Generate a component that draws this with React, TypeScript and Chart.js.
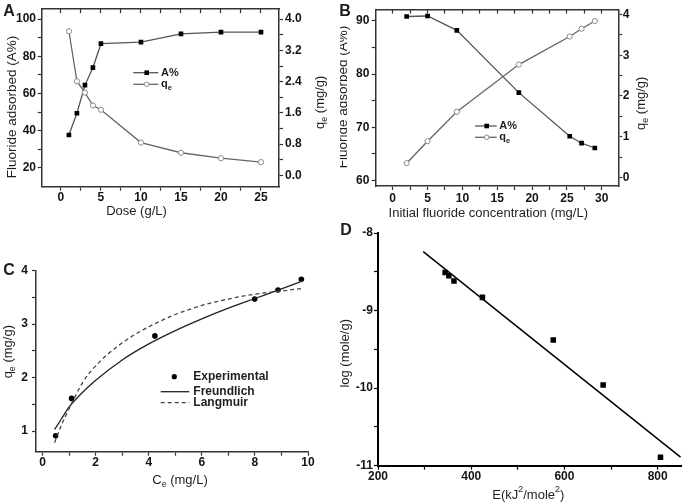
import React, { useEffect, useRef } from 'react';
import { Chart, registerables } from 'chart.js';

Chart.register(...registerables);

const FONT = '"Liberation Sans", Arial, Helvetica, sans-serif';

// ---------- Panel A: dose effect ----------
const A_DOSE = [1, 2, 3, 4, 5, 10, 15, 20, 25];
const A_PERCENT = [37.7, 49.4, 64.5, 73.9, 86.8, 87.6, 92.1, 93.0, 93.0];
const A_QE = [3.69, 2.41, 2.12, 1.79, 1.68, 0.84, 0.58, 0.44, 0.34];
const A_X_TICKS = [0, 5, 10, 15, 20, 25];
const A_X_LABELS = ['0', '5', '10', '15', '20', '25'];
const A_X_MINOR = [2.5, 7.5, 12.5, 17.5, 22.5];
const A_Y_TICKS = [20, 40, 60, 80, 100];
const A_Y_LABELS = ['20', '40', '60', '80', '100'];
const A_Y_MINOR = [30, 50, 70, 90];
const A_Q_TICKS = [0, 0.8, 1.6, 2.4, 3.2, 4.0];
const A_Q_LABELS = ['0.0', '0.8', '1.6', '2.4', '3.2', '4.0'];
const A_Q_MINOR = [0.4, 1.2, 2.0, 2.8, 3.6];

// ---------- Panel B: initial concentration ----------
const B_CONC = [2, 5, 9.2, 18.1, 25.4, 27.1, 29];
const B_PERCENT = [90.8, 90.9, 88.2, 76.5, 68.3, 67.0, 66.1];
const B_QE = [0.35, 0.89, 1.61, 2.77, 3.46, 3.65, 3.84];
const B_X_TICKS = [0, 5, 10, 15, 20, 25, 30];
const B_X_LABELS = ['0', '5', '10', '15', '20', '25', '30'];
const B_X_MINOR = [2.5, 7.5, 12.5, 17.5, 22.5, 27.5];
const B_Y_TICKS = [60, 70, 80, 90];
const B_Y_LABELS = ['60', '70', '80', '90'];
const B_Y_MINOR = [65, 75, 85];
const B_Q_TICKS = [0, 1, 2, 3, 4];
const B_Q_LABELS = ['0', '1', '2', '3', '4'];
const B_Q_MINOR = [0.5, 1.5, 2.5, 3.5];

// ---------- Panel C: isotherms ----------
const C_CE = [0.49, 1.09, 4.23, 7.99, 8.87, 9.75];
const C_QE = [0.91, 1.61, 2.78, 3.47, 3.64, 3.84];
const C_FIT_CE = [0.45, 0.7, 1.0, 1.5, 2, 3, 4, 5, 6, 7, 8, 9, 9.8];
const C_FREUNDLICH = [1.03, 1.22, 1.45, 1.72, 1.95, 2.33, 2.63, 2.88, 3.1, 3.3, 3.48, 3.66, 3.81];
const C_LANGMUIR = [0.78, 1.1, 1.42, 1.9, 2.22, 2.65, 2.95, 3.18, 3.35, 3.47, 3.56, 3.62, 3.67];
const C_X_TICKS = [0, 2, 4, 6, 8, 10];
const C_X_LABELS = ['0', '2', '4', '6', '8', '10'];
const C_X_MINOR = [1, 3, 5, 7, 9];
const C_Y_TICKS = [1, 2, 3, 4];
const C_Y_LABELS = ['1', '2', '3', '4'];
const C_Y_MINOR = [1.5, 2.5, 3.5];

// ---------- Panel D: D-R plot ----------
const D_E = [344, 352, 363, 424, 576, 683, 806];
const D_LOG = [-8.51, -8.55, -8.62, -8.83, -9.38, -9.96, -10.89];
const D_FIT_E = [297, 849];
const D_FIT_LOG = [-8.24, -10.89];
const D_X_TICKS = [200, 400, 600, 800];
const D_X_LABELS = ['200', '400', '600', '800'];
const D_X_MINOR = [300, 500, 700];
const D_Y_TICKS = [-11, -10, -9, -8];
const D_Y_LABELS = ['-11', '-10', '-9', '-8'];
const D_Y_MINOR = [-10.5, -9.5, -8.5];

type Seg = [string, ('sub' | 'sup')?];
interface TextItem {
  segs: Seg[];
  x: number;
  y: number;
  size: number;
  bold?: boolean;
  rot?: number;
  align?: 'left' | 'center' | 'right';
  color?: string;
}
interface LegendItem {
  y: number;
  x1: number;
  x2: number;
  mx: number;
  tx: number;
  segs: Seg[];
  line?: 'solid' | 'dash';
  lineColor?: string;
  lineWidth?: number;
  marker?: 'square' | 'circle' | 'dot';
  size: number;
}

function drawRich(ctx: CanvasRenderingContext2D, it: TextItem) {
  ctx.save();
  ctx.translate(it.x, it.y);
  if (it.rot) ctx.rotate(it.rot);
  ctx.textBaseline = 'middle';
  ctx.textAlign = 'left';
  ctx.fillStyle = it.color || '#1e1e1e';
  const w = it.bold ? 'bold ' : '';
  const fontFor = (k?: string) => `${w}${k ? it.size * 0.68 : it.size}px ${FONT}`;
  const widths = it.segs.map(([t, k]) => {
    ctx.font = fontFor(k);
    return ctx.measureText(t).width;
  });
  const total = widths.reduce((a, b) => a + b, 0);
  const align = it.align || 'center';
  let x = align === 'center' ? -total / 2 : align === 'right' ? -total : 0;
  it.segs.forEach(([t, k], i) => {
    ctx.font = fontFor(k);
    const dy = k === 'sub' ? it.size * 0.32 : k === 'sup' ? -it.size * 0.38 : 0;
    ctx.fillText(t, x, dy);
    x += widths[i];
  });
  ctx.restore();
}

const decoPlugin = {
  id: 'deco',
  afterDraw(chart: any, _args: any, opts: any) {
    const ctx: CanvasRenderingContext2D = chart.ctx;
    (opts.legend || []).forEach((l: LegendItem) => {
      ctx.save();
      if (l.line) {
        ctx.strokeStyle = l.lineColor || '#444';
        ctx.lineWidth = l.lineWidth || 1.3;
        ctx.setLineDash(l.line === 'dash' ? [4, 3] : []);
        ctx.beginPath();
        ctx.moveTo(l.x1, l.y);
        ctx.lineTo(l.x2, l.y);
        ctx.stroke();
        ctx.setLineDash([]);
      }
      if (l.marker === 'square') {
        ctx.fillStyle = '#000';
        ctx.fillRect(l.mx - 2.3, l.y - 2.3, 4.6, 4.6);
      } else if (l.marker === 'circle') {
        ctx.fillStyle = '#fff';
        ctx.strokeStyle = '#8a8a8a';
        ctx.lineWidth = 1;
        ctx.beginPath();
        ctx.arc(l.mx, l.y, 2.3, 0, Math.PI * 2);
        ctx.fill();
        ctx.stroke();
      } else if (l.marker === 'dot') {
        ctx.fillStyle = '#000';
        ctx.beginPath();
        ctx.arc(l.mx, l.y, 2.6, 0, Math.PI * 2);
        ctx.fill();
      }
      ctx.restore();
      drawRich(ctx, { segs: l.segs, x: l.tx, y: l.y, size: l.size, bold: true, align: 'left' });
    });
    (opts.texts || []).forEach((t: TextItem) => drawRich(ctx, t));
  },
};

interface AxisOpts {
  position: 'left' | 'right' | 'top' | 'bottom';
  min: number;
  max: number;
  major: number[];
  labels?: string[];
  minor?: number[];
  size: number;
  tickLen?: number;
  pad?: number;
  font?: number;
  showLabels?: boolean;
  color?: string;
  width?: number;
}

function makeAxis(p: AxisOpts) {
  const horizontal = p.position === 'top' || p.position === 'bottom';
  const color = p.color || '#333';
  return {
    type: 'linear',
    position: p.position,
    min: p.min,
    max: p.max,
    afterBuildTicks: (s: any) => {
      s.ticks = [...p.major, ...(p.minor || [])].sort((a, b) => a - b).map((v) => ({ value: v }));
    },
    afterFit: (s: any) => {
      if (horizontal) s.height = p.size;
      else s.width = p.size;
    },
    grid: {
      display: true,
      drawOnChartArea: false,
      drawTicks: true,
      tickLength: p.tickLen ?? 4,
      tickColor: color,
      tickWidth: 1.2,
    },
    border: { display: true, color, width: p.width || 1.5 },
    ticks: {
      display: p.showLabels !== false,
      autoSkip: false,
      maxRotation: 0,
      minRotation: 0,
      padding: p.pad ?? 2,
      color: '#141414',
      font: { size: p.font || 12, weight: 'bold', family: FONT },
      callback: (v: number) => {
        const i = p.major.findIndex((m) => Math.abs(m - v) < 1e-9);
        return i >= 0 ? (p.labels ? p.labels[i] : String(v)) : '';
      },
    },
    title: { display: false },
  };
}

const pairs = (xs: number[], ys: number[]) => xs.map((x, i) => ({ x, y: ys[i] }));
const ROT = -Math.PI / 2;

function baseOptions(padding: any, scales: any, deco: any) {
  return {
    responsive: false,
    animation: false,
    layout: { padding },
    plugins: { legend: { display: false }, tooltip: { enabled: false }, deco },
    scales,
  };
}

function configA() {
  return {
    type: 'scatter',
    data: {
      datasets: [
        {
          data: pairs(A_DOSE, A_QE),
          yAxisID: 'y1',
          showLine: true,
          borderColor: '#666',
          borderWidth: 1.3,
          pointStyle: 'circle',
          pointRadius: 2.6,
          pointBackgroundColor: '#fff',
          pointBorderColor: '#8a8a8a',
          pointBorderWidth: 1,
        },
        {
          data: pairs(A_DOSE, A_PERCENT),
          yAxisID: 'y',
          showLine: true,
          borderColor: '#555',
          borderWidth: 1.3,
          pointStyle: 'rect',
          pointRadius: 3.3,
          pointBackgroundColor: '#000',
          pointBorderColor: '#000',
          pointBorderWidth: 0,
        },
      ],
    },
    options: baseOptions(
      { top: 2.7, left: 0, right: 0, bottom: 0 },
      {
        x: makeAxis({ position: 'bottom', min: -2.4, max: 27.25, major: A_X_TICKS, labels: A_X_LABELS, minor: A_X_MINOR, size: 53.3, pad: 0 }),
        xTop: makeAxis({ position: 'top', min: -2.4, max: 27.25, major: A_X_TICKS, minor: A_X_MINOR, size: 0, tickLen: -4, showLabels: false }),
        y: makeAxis({ position: 'left', min: 9.9, max: 105.35, major: A_Y_TICKS, labels: A_Y_LABELS, minor: A_Y_MINOR, size: 41.7, pad: 1.7 }),
        y1: makeAxis({ position: 'right', min: -0.289, max: 4.254, major: A_Q_TICKS, labels: A_Q_LABELS, minor: A_Q_MINOR, size: 61, pad: 2 }),
      },
      {
        texts: [
          { segs: [['A']], x: 9, y: 12, size: 16, bold: true },
          { segs: [['Fluoride adsorbed (A%)']], x: 12.5, y: 107, size: 13.5, rot: ROT },
          { segs: [['Dose (g/L)']], x: 136.5, y: 211.7, size: 13 },
          { segs: [['q'], ['e', 'sub'], [' (mg/g)']], x: 320, y: 102.3, size: 13, rot: ROT },
        ],
        legend: [
          { y: 72.7, x1: 133.3, x2: 158.3, mx: 146.7, tx: 161, segs: [['A%']], line: 'solid', lineColor: '#555', marker: 'square', size: 11 },
          { y: 84.3, x1: 133.3, x2: 158.3, mx: 146.7, tx: 161, segs: [['q'], ['e', 'sub']], line: 'solid', lineColor: '#666', marker: 'circle', size: 11 },
        ],
      }
    ),
    plugins: [decoPlugin],
  };
}

function configB() {
  return {
    type: 'scatter',
    data: {
      datasets: [
        {
          data: pairs(B_CONC, B_QE),
          yAxisID: 'y1',
          showLine: true,
          borderColor: '#666',
          borderWidth: 1.3,
          pointStyle: 'circle',
          pointRadius: 2.6,
          pointBackgroundColor: '#fff',
          pointBorderColor: '#8a8a8a',
          pointBorderWidth: 1,
        },
        {
          data: pairs(B_CONC, B_PERCENT),
          yAxisID: 'y',
          showLine: true,
          borderColor: '#555',
          borderWidth: 1.3,
          pointStyle: 'rect',
          pointRadius: 3.3,
          pointBackgroundColor: '#000',
          pointBorderColor: '#000',
          pointBorderWidth: 0,
        },
      ],
    },
    options: baseOptions(
      { top: 5, left: 0, right: 0, bottom: 0 },
      {
        x: makeAxis({ position: 'bottom', min: -2.44, max: 32.37, major: B_X_TICKS, labels: B_X_LABELS, minor: B_X_MINOR, size: 54, pad: 1 }),
        xTop: makeAxis({ position: 'top', min: -2.44, max: 32.37, major: B_X_TICKS, minor: B_X_MINOR, size: 0, tickLen: -4, showLabels: false }),
        y: makeAxis({ position: 'left', min: 58.96, max: 92.1, major: B_Y_TICKS, labels: B_Y_LABELS, minor: B_Y_MINOR, size: 35.7, pad: 2.4 }),
        y1: makeAxis({ position: 'right', min: -0.21, max: 4.12, major: B_Q_TICKS, labels: B_Q_LABELS, minor: B_Q_MINOR, size: 66.7, pad: 0.5 }),
      },
      {
        texts: [
          { segs: [['B']], x: 5, y: 12, size: 16, bold: true },
          { segs: [['Fluoride adsorbed (A%)']], x: 3, y: 97, size: 13.5, rot: ROT },
          { segs: [['Initial fluoride concentration (mg/L)']], x: 148.3, y: 213.3, size: 13 },
          { segs: [['q'], ['e', 'sub'], [' (mg/g)']], x: 301.7, y: 103.3, size: 13, rot: ROT },
        ],
        legend: [
          { y: 126, x1: 135, x2: 156.7, mx: 146.7, tx: 159.3, segs: [['A%']], line: 'solid', lineColor: '#555', marker: 'square', size: 11 },
          { y: 137.3, x1: 135, x2: 156.7, mx: 146.7, tx: 159.3, segs: [['q'], ['e', 'sub']], line: 'solid', lineColor: '#666', marker: 'circle', size: 11 },
        ],
      }
    ),
    plugins: [decoPlugin],
  };
}

function configC() {
  return {
    type: 'scatter',
    data: {
      datasets: [
        {
          data: pairs(C_FIT_CE, C_LANGMUIR),
          showLine: true,
          borderColor: '#444',
          borderWidth: 1.3,
          borderDash: [4, 3],
          pointRadius: 0,
          cubicInterpolationMode: 'monotone',
        },
        {
          data: pairs(C_FIT_CE, C_FREUNDLICH),
          showLine: true,
          borderColor: '#222',
          borderWidth: 1.3,
          pointRadius: 0,
          cubicInterpolationMode: 'monotone',
        },
        {
          data: pairs(C_CE, C_QE),
          showLine: false,
          pointStyle: 'circle',
          pointRadius: 2.8,
          pointBackgroundColor: '#000',
          pointBorderColor: '#000',
          pointBorderWidth: 0,
        },
      ],
    },
    options: baseOptions(
      { top: 30.7, left: 0, right: 32, bottom: 0 },
      {
        x: makeAxis({ position: 'bottom', min: -0.25, max: 10, major: C_X_TICKS, labels: C_X_LABELS, minor: C_X_MINOR, size: 51.3, pad: 0 }),
        y: makeAxis({ position: 'left', min: 0.613, max: 4, major: C_Y_TICKS, labels: C_Y_LABELS, minor: C_Y_MINOR, size: 36, pad: 4 }),
      },
      {
        texts: [
          { segs: [['C']], x: 9, y: 31, size: 16, bold: true },
          { segs: [['q'], ['e', 'sub'], [' (mg/g)']], x: 8.3, y: 111.7, size: 13, rot: ROT },
          { segs: [['C'], ['e', 'sub'], [' (mg/L)']], x: 180, y: 240, size: 13 },
        ],
        legend: [
          { y: 136.7, x1: 0, x2: 0, mx: 174.3, tx: 193.3, segs: [['Experimental']], marker: 'dot', size: 12 },
          { y: 151.7, x1: 160.7, x2: 189.3, mx: 0, tx: 193.3, segs: [['Freundlich']], line: 'solid', lineColor: '#222', size: 12 },
          { y: 162.7, x1: 160.7, x2: 189.3, mx: 0, tx: 193.3, segs: [['Langmuir']], line: 'dash', lineColor: '#444', size: 12 },
        ],
      }
    ),
    plugins: [decoPlugin],
  };
}

function configD() {
  return {
    type: 'scatter',
    data: {
      datasets: [
        {
          data: pairs(D_FIT_E, D_FIT_LOG),
          showLine: true,
          borderColor: '#000',
          borderWidth: 1.5,
          pointRadius: 0,
        },
        {
          data: pairs(D_E, D_LOG),
          showLine: false,
          pointStyle: 'rect',
          pointRadius: 3.9,
          pointBackgroundColor: '#000',
          pointBorderColor: '#000',
          pointBorderWidth: 0,
        },
      ],
    },
    options: baseOptions(
      { top: 18, left: 0, right: 3.3, bottom: 0 },
      {
        x: makeAxis({ position: 'bottom', min: 200, max: 850, major: D_X_TICKS, labels: D_X_LABELS, minor: D_X_MINOR, size: 37.3, pad: 0, color: '#000', width: 2 }),
        y: makeAxis({ position: 'left', min: -11, max: -8, major: D_Y_TICKS, labels: D_Y_LABELS, minor: D_Y_MINOR, size: 38, pad: 1, color: '#000', width: 2 }),
      },
      {
        texts: [
          { segs: [['D']], x: 6, y: 16, size: 16, bold: true },
          { segs: [['log (mole/g)']], x: 5, y: 138.3, size: 13, rot: ROT },
          { segs: [['E(kJ'], ['2', 'sup'], ['/mole'], ['2', 'sup'], [')']], x: 188.3, y: 280, size: 13 },
        ],
      }
    ),
    plugins: [decoPlugin],
  };
}

function Panel(props: { left: number; top: number; width: number; height: number; make: () => any }) {
  const ref = useRef<HTMLCanvasElement>(null);
  useEffect(() => {
    const chart = new Chart(ref.current as HTMLCanvasElement, props.make());
    return () => chart.destroy();
  }, []);
  return (
    <canvas
      ref={ref}
      width={props.width}
      height={props.height}
      style={{ position: 'absolute', left: props.left, top: props.top, width: props.width, height: props.height }}
    />
  );
}

export default function App() {
  return (
    <div style={{ position: 'absolute', left: 0, top: 0, width: 685, height: 503, background: '#fff', overflow: 'hidden' }}>
      <Panel left={0} top={0} width={340} height={240} make={configA} />
      <Panel left={340} top={0} width={345} height={240} make={configB} />
      <Panel left={0} top={240} width={340} height={263} make={configC} />
      <Panel left={340} top={215} width={345} height={288} make={configD} />
    </div>
  );
}
